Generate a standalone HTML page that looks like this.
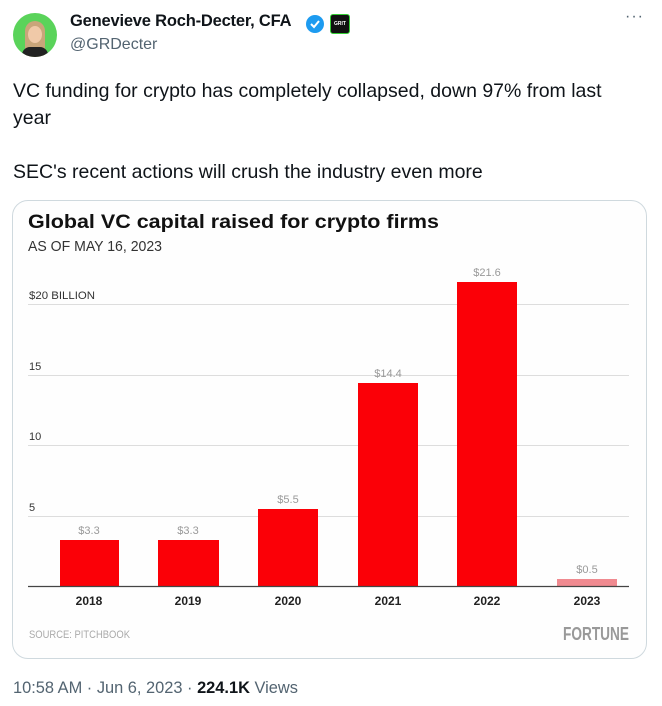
<!DOCTYPE html>
<html><head><meta charset="utf-8"><style>
body{margin:0;width:662px;height:706px;background:#fff;font-family:"Liberation Sans",sans-serif;position:relative;overflow:hidden}
.a{position:absolute;white-space:nowrap}
</style></head><body>
<div class="a" style="left:13px;top:13px;width:44px;height:44px;border-radius:50%;background:#5ad35a;overflow:hidden">
 <div style="position:absolute;left:12px;top:8px;width:20px;height:40px;border-radius:10px 10px 0 0;background:#c9a57a"></div>
 <div style="position:absolute;left:15px;top:13px;width:14px;height:17px;border-radius:50%;background:#f0c9a8"></div>
 <div style="position:absolute;left:9px;top:34px;width:26px;height:14px;border-radius:8px 8px 0 0;background:#222"></div>
</div>
<div class="a" style="left:70px;top:12px;font-size:16.5px;font-weight:bold;color:#0f1419;letter-spacing:-0.2px">Genevieve Roch-Decter, CFA</div>
<svg class="a" style="left:305px;top:14px" width="20" height="20" viewBox="0 0 20 20"><circle cx="10" cy="10" r="9" fill="#1d9bf0"/><path d="M6 10l3 3 5-6" stroke="#fff" stroke-width="2" fill="none"/></svg>
<div class="a" style="left:330px;top:14px;width:18px;height:18px;background:#111;border:1px solid #3c3;border-radius:3px;color:#fff;font-size:5px;line-height:18px;text-align:center;font-weight:bold">GRIT</div>
<div class="a" style="left:70px;top:36px;font-size:16px;color:#536471">@GRDecter</div>
<div class="a" style="left:625px;top:8px;font-size:16px;color:#536471;letter-spacing:1px">···</div>
<div class="a" style="left:13px;top:78px;font-size:19.5px;line-height:27px;color:#0f1419;white-space:normal;width:605px">VC funding for crypto has completely collapsed, down 97% from last year<br><br>SEC's recent actions will crush the industry even more</div>
<div class="a" style="left:12px;top:200px;width:633px;height:457px;border:1px solid #cfd9de;border-radius:16px;background:#fefefe"></div>
<svg class="a" style="left:0;top:0" width="662" height="706">
<g font-family="Liberation Sans Narrow, Liberation Sans, sans-serif">
<text x="28" y="228" font-size="19.5" font-weight="bold" fill="#111" font-family="Liberation Sans,sans-serif" textLength="411" lengthAdjust="spacingAndGlyphs">Global VC capital raised for crypto firms</text>
<text x="28" y="251" font-size="15" fill="#333" textLength="134" lengthAdjust="spacingAndGlyphs">AS OF MAY 16, 2023</text>
<g stroke="#ddd" stroke-width="1"><line x1="28" x2="629" y1="304.5" y2="304.5"/><line x1="28" x2="629" y1="375.5" y2="375.5"/><line x1="28" x2="629" y1="445.5" y2="445.5"/><line x1="28" x2="629" y1="516.5" y2="516.5"/></g>
<g font-size="11" fill="#333"><text x="29" y="299" textLength="66" lengthAdjust="spacingAndGlyphs">$20 BILLION</text><text x="29" y="370">15</text><text x="29" y="440">10</text><text x="29" y="511">5</text></g>
<g fill="#fb0007"><rect x="60" y="540" width="59" height="46"/><rect x="158" y="540" width="61" height="46"/><rect x="258" y="509" width="60" height="77"/><rect x="358" y="383" width="60" height="203"/><rect x="457" y="282" width="60" height="304"/></g>
<rect x="557" y="579" width="60" height="7" fill="#f08a90"/>
<line x1="28" x2="629" y1="586.5" y2="586.5" stroke="#444" stroke-width="1.2"/>
<g font-size="11" fill="#999" text-anchor="middle"><text x="89" y="534">$3.3</text><text x="188" y="534">$3.3</text><text x="288" y="503">$5.5</text><text x="388" y="377">$14.4</text><text x="487" y="276">$21.6</text><text x="587" y="573">$0.5</text></g>
<g font-size="12" font-weight="bold" fill="#222" text-anchor="middle"><text x="89" y="605">2018</text><text x="188" y="605">2019</text><text x="288" y="605">2020</text><text x="388" y="605">2021</text><text x="487" y="605">2022</text><text x="587" y="605">2023</text></g>
<text x="29" y="638" font-size="11" fill="#aaa" textLength="101" lengthAdjust="spacingAndGlyphs">SOURCE: PITCHBOOK</text>
<text x="629" y="640" font-size="18" font-weight="bold" fill="#999" text-anchor="end" textLength="66" lengthAdjust="spacingAndGlyphs">FORTUNE</text>
</g></svg>
<div class="a" style="left:13px;top:679px;font-size:16.4px;color:#536471">10:58 AM · Jun 6, 2023 · <b style="color:#0f1419">224.1K</b> Views</div>
</body></html>
